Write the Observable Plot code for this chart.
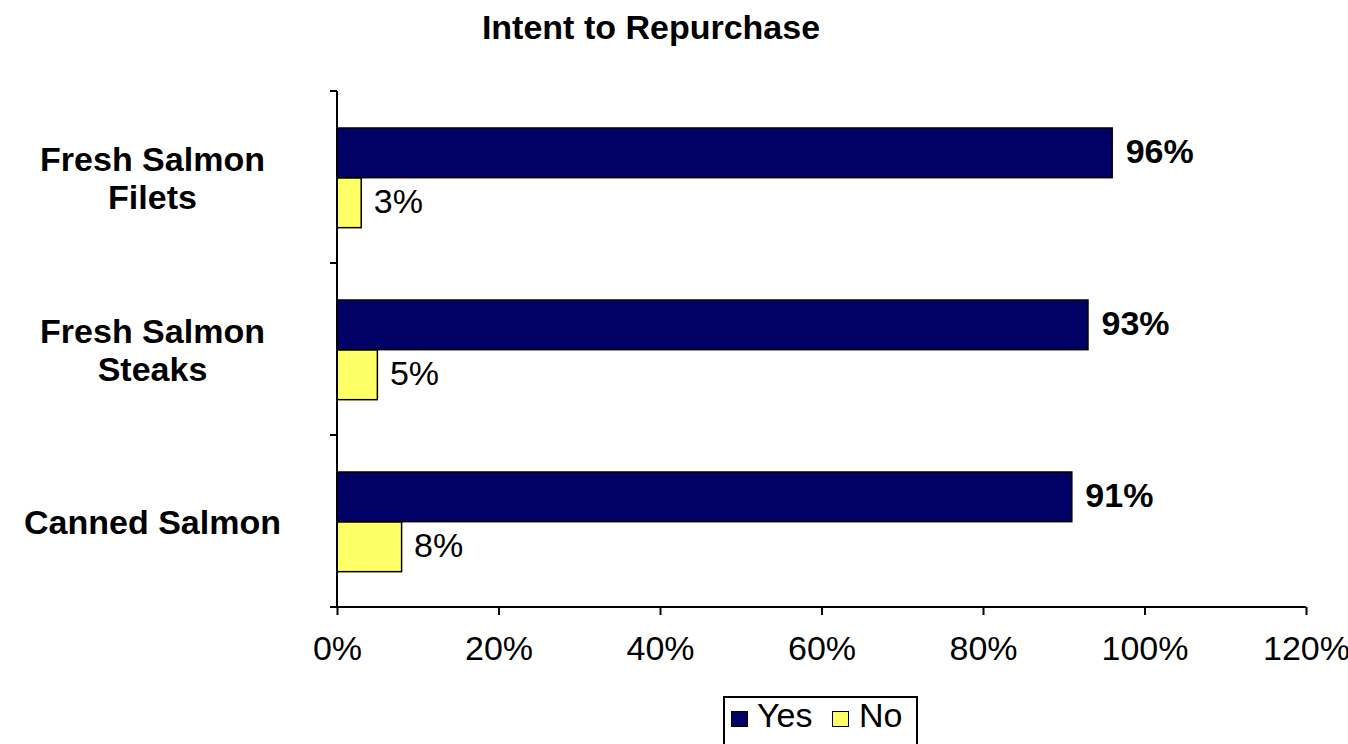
<!DOCTYPE html>
<html>
<head>
<meta charset="utf-8">
<script src="https://cdn.jsdelivr.net/npm/d3@7"></script>
<script src="https://cdn.jsdelivr.net/npm/@observablehq/plot@0.6"></script>
<style>
  html, body { margin: 0; padding: 0; background: white; }
  body { font-family: "Liberation Sans", Arial, Helvetica, sans-serif; width: 1348px; height: 744px; overflow: hidden; }
  #title { width: 1302px; height: 54px; line-height: 54px; text-align: center; font-weight: bold; font-size: 34px; color: black; }
  #legend { position: relative; margin-left: 723px; margin-top: 2px; width: 191px; height: 60px; border: 2px solid black; font-size: 34px; }
  #legend .sw { position: absolute; top: 13px; width: 15px; height: 14px; border: 1.5px solid black; }
  #legend .lb { position: absolute; top: -2px; line-height: 38px; }
</style>
</head>
<body>
<div id="title">Intent to Repurchase</div>
<div id="chart"></div>
<div id="legend"></div>
<script>
// ---- data ----
const categories = ["Fresh Salmon Filets", "Fresh Salmon Steaks", "Canned Salmon"];
const categoryLabels = ["Fresh Salmon\nFilets", "Fresh Salmon\nSteaks", "Canned Salmon"];
const seriesNames = ["Yes", "No"];
const yesValues = [96, 93, 91];
const noValues = [3, 5, 8];
const xTicks = [0, 20, 40, 60, 80, 100, 120];
const seriesColors = ["#000066", "#FFFF66"];

const yesRows = categories.map((c, i) => ({category: c, value: yesValues[i]}));
const noRows = categories.map((c, i) => ({category: c, value: noValues[i]}));
const labelRows = categories.map((c, i) => ({category: c, label: categoryLabels[i]}));

const W = 1348, H = 640;
const mTop = 36, mBottom = 87, mLeft = 337, mRight = 42;
const band = (H - mTop - mBottom) / categories.length;

function axisLines(index, scales) {
  const {x, y} = scales;
  const bw = y.bandwidth();
  const x0 = x(xTicks[0]);
  const top = y(categories[0]);
  const bottom = y(categories[categories.length - 1]) + bw;
  const g = d3.create("svg:g").attr("stroke", "black").attr("stroke-width", 2).attr("fill", "none");
  g.append("line").attr("x1", x0).attr("x2", x0).attr("y1", top).attr("y2", bottom);
  g.append("line").attr("x1", x0).attr("x2", x(xTicks[xTicks.length - 1])).attr("y1", bottom).attr("y2", bottom);
  const bounds = categories.map(c => y(c)).concat([bottom]);
  g.selectAll("line.t").data(bounds).join("line").attr("class", "t")
    .attr("x1", x0 - 7).attr("x2", x0).attr("y1", d => d).attr("y2", d => d);
  return g.node();
}

const chart = Plot.plot({
  width: W,
  height: H,
  marginTop: mTop,
  marginBottom: mBottom,
  marginLeft: mLeft,
  marginRight: mRight,
  style: {fontFamily: "'Liberation Sans', Arial, Helvetica, sans-serif", fontSize: "34px", background: "white", color: "black", overflow: "visible"},
  x: {domain: [xTicks[0], xTicks[xTicks.length - 1]]},
  y: {type: "band", domain: categories, padding: 0, axis: null},
  marks: [
    Plot.barX(yesRows, {x: "value", y: "category", fill: seriesColors[0], stroke: "black", strokeWidth: 1.5, insetTop: 37, insetBottom: band - 87}),
    Plot.barX(noRows, {x: "value", y: "category", fill: seriesColors[1], stroke: "black", strokeWidth: 1.5, insetTop: 87, insetBottom: band - 137}),
    Plot.text(yesRows, {x: "value", y: "category", text: d => d.value + "%", textAnchor: "start", lineAnchor: "middle", dx: 13, dy: -25, fontWeight: "bold", fill: "black"}),
    Plot.text(noRows, {x: "value", y: "category", text: d => d.value + "%", textAnchor: "start", lineAnchor: "middle", dx: 12, dy: 25, fill: "black"}),
    Plot.text(labelRows, {y: "category", text: "label", frameAnchor: "left", textAnchor: "middle", lineAnchor: "middle", lineHeight: 1.12, dx: -185, fontWeight: "bold", fill: "black"}),
    axisLines,
    Plot.axisX({ticks: xTicks, tickFormat: d => d + "%", tickSize: 8, tickPadding: 20, strokeWidth: 2, fill: "black", stroke: "black", label: null})
  ]
});
document.getElementById("chart").appendChild(chart);

// ---- legend ----
const legend = d3.select("#legend");
const swX = [6, 107], lbX = [32, 134];
seriesNames.forEach((s, i) => {
  legend.append("div").attr("class", "sw").style("left", swX[i] + "px").style("background", seriesColors[i]);
  legend.append("div").attr("class", "lb").style("left", lbX[i] + "px").text(s);
});
</script>
</body>
</html>
